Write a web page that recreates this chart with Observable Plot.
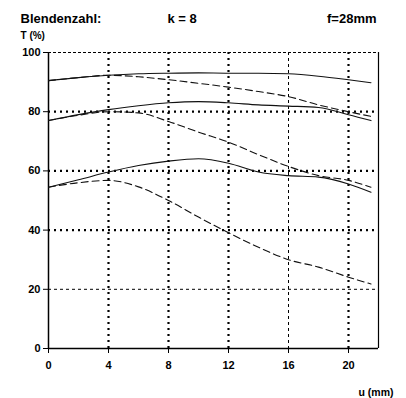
<!DOCTYPE html>
<html><head><meta charset="utf-8">
<script src="https://cdn.jsdelivr.net/npm/d3@7"></script>
<script src="https://cdn.jsdelivr.net/npm/@observablehq/plot@0.6"></script>
<style>body{margin:0;background:#fff;} svg{display:block;}</style>
</head><body><div id="chart"></div>
<script>
const uValues = [0, 2, 4, 6, 8, 10, 12, 14, 16, 18, 20, 21.5];
const solidHigh = [90.5, 91.5, 92.3, 92.8, 93.0, 93.1, 93.0, 93.0, 92.8, 92.0, 90.8, 89.8];
const dashedHigh = [90.5, 91.5, 92.3, 91.8, 90.8, 89.6, 88.3, 86.8, 85.1, 82.3, 80.0, 78.4];
const solidMid = [77.0, 79.0, 80.7, 82.0, 83.0, 83.4, 83.0, 82.3, 81.9, 81.4, 79.0, 77.0];
const dashedMid = [77.0, 78.8, 80.0, 79.6, 76.7, 73.1, 69.7, 65.5, 61.5, 58.4, 56.8, 54.5];
const solidLow = [54.5, 57.0, 59.6, 61.8, 63.3, 64.1, 62.6, 59.6, 58.4, 57.9, 55.6, 52.8];
const dashedLow = [54.5, 56.0, 56.8, 54.6, 50.0, 44.4, 39.1, 34.2, 30.0, 27.5, 24.1, 21.8];
const xTicks = [0, 4, 8, 12, 16, 20];
const yTicks = [0, 20, 40, 60, 80, 100];
const thickGridX = [4, 8, 12, 20];
const thinGridX = [16];
const thickGridY = [40, 60, 80];
const thinGridY = [20];

const series = [
  {name: "solidHigh", vals: solidHigh, dashed: false},
  {name: "dashedHigh", vals: dashedHigh, dashed: true},
  {name: "solidMid", vals: solidMid, dashed: false},
  {name: "dashedMid", vals: dashedMid, dashed: true},
  {name: "solidLow", vals: solidLow, dashed: false},
  {name: "dashedLow", vals: dashedLow, dashed: true}
];
const rows = series.flatMap(s => s.vals.map((v, i) => ({u: uValues[i], t: v, s: s.name, dashed: s.dashed})));
const font = "Liberation Sans, Arial, sans-serif";

const chart = Plot.plot({
  width: 406, height: 398,
  marginLeft: 48, marginRight: 28, marginTop: 52, marginBottom: 50,
  style: {fontFamily: font, fontWeight: "bold", fontSize: "11px", color: "#000", background: "#fff"},
  x: {domain: [0, 22], ticks: xTicks, tickSize: 5, tickPadding: 6, label: null},
  y: {domain: [0, 100], ticks: yTicks, tickSize: 5, tickPadding: 3, label: null},
  marks: [
    Plot.ruleX(thickGridX, {stroke: "#000", strokeWidth: 2.2, strokeDasharray: "2,4"}),
    Plot.ruleX(thinGridX, {stroke: "#000", strokeWidth: 1, strokeDasharray: "3,3"}),
    Plot.ruleY(thickGridY, {stroke: "#000", strokeWidth: 2.2, strokeDasharray: "2,4"}),
    Plot.ruleY(thinGridY, {stroke: "#000", strokeWidth: 1, strokeDasharray: "3,3"}),
    Plot.ruleY([100], {stroke: "#000", strokeWidth: 1, strokeDasharray: "3,2"}),
    Plot.ruleX([22], {stroke: "#000", strokeWidth: 1.2}),
    Plot.ruleX([0], {stroke: "#000", strokeWidth: 1.5}),
    Plot.ruleY([0], {stroke: "#000", strokeWidth: 1.5}),
    Plot.axisX({ticks: xTicks, tickSize: 5, tickPadding: 8, fontWeight: "bold", fontSize: 11, label: null}),
    Plot.axisY({ticks: yTicks, tickSize: 5, tickPadding: 3, fontWeight: "bold", fontSize: 11, label: null}),
    Plot.line(rows.filter(d => !d.dashed), {x: "u", y: "t", z: "s", stroke: "#111", strokeWidth: 1.1, curve: "monotone-x"}),
    Plot.line(rows.filter(d => d.dashed), {x: "u", y: "t", z: "s", stroke: "#111", strokeWidth: 1.1, strokeDasharray: "7,4", curve: "monotone-x"}),
    Plot.text(["Blendenzahl:"], {frameAnchor: "top-left", dx: -28, dy: -39, textAnchor: "start", fontSize: 13, fontWeight: "bold"}),
    Plot.text(["k = 8"], {frameAnchor: "top-left", dx: 119, dy: -39, textAnchor: "start", fontSize: 13, fontWeight: "bold"}),
    Plot.text(["f=28mm"], {frameAnchor: "top-right", dx: -2, dy: -39, textAnchor: "end", fontSize: 13, fontWeight: "bold"}),
    Plot.text(["T (%)"], {frameAnchor: "top-left", dx: -28, dy: -21, textAnchor: "start", fontSize: 10, fontWeight: "bold"}),
    Plot.text(["u (mm)"], {frameAnchor: "bottom-right", dx: 15, dy: 47, textAnchor: "end", fontSize: 10.5, fontWeight: "bold"})
  ]
});
document.getElementById("chart").appendChild(chart);
</script>
</body></html>
